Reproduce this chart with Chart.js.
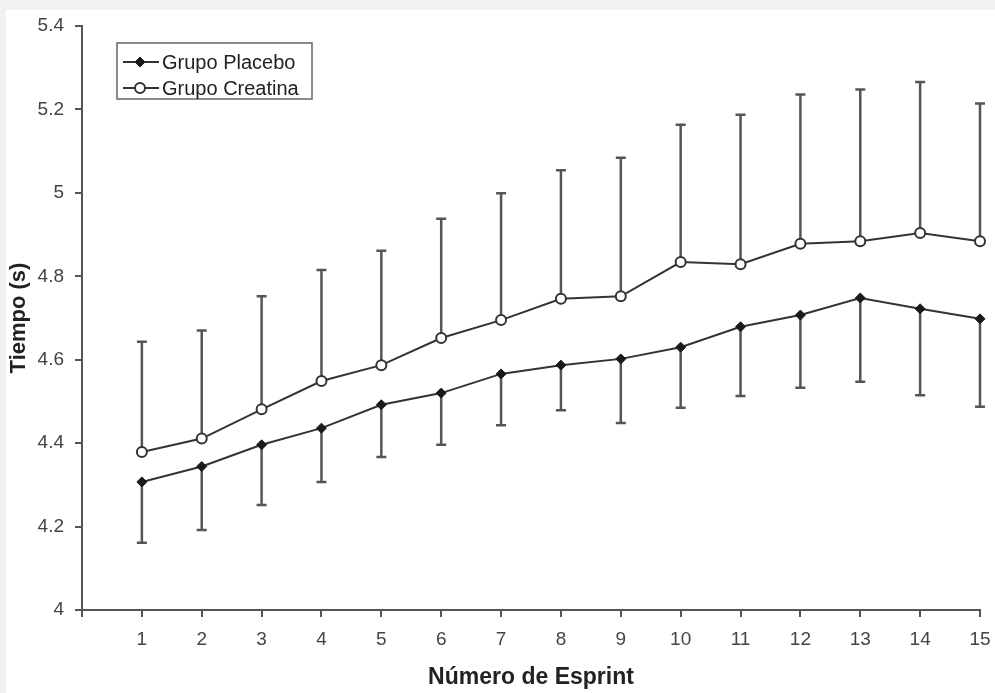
<!DOCTYPE html>
<html>
<head>
<meta charset="utf-8">
<title>Tiempo por esprint</title>
<script src="https://cdn.jsdelivr.net/npm/chart.js@4.4.0/dist/chart.umd.min.js"></script>
<style>
	html, body { margin: 0; padding: 0; background: #f2f2f2; }
	#wrap { width: 995px; height: 693px; }
</style>
</head>
<body>
<div id="wrap"><canvas id="grafico" width="995" height="693"></canvas></div>
<script>
	"use strict";
	// datos
	var sprints = [1, 2, 3, 4, 5, 6, 7, 8, 9, 10, 11, 12, 13, 14, 15];
	var placeboMean = [4.307, 4.344, 4.396, 4.436, 4.492, 4.520, 4.566, 4.587, 4.602, 4.630, 4.679, 4.707, 4.748, 4.722, 4.698];
	var placeboSD = [0.146, 0.152, 0.144, 0.129, 0.125, 0.124, 0.123, 0.108, 0.154, 0.145, 0.166, 0.174, 0.201, 0.207, 0.211];
	var creatinaMean = [4.379, 4.411, 4.481, 4.549, 4.587, 4.652, 4.695, 4.746, 4.752, 4.834, 4.829, 4.878, 4.884, 4.904, 4.884];
	var creatinaSD = [0.264, 0.259, 0.271, 0.266, 0.274, 0.286, 0.304, 0.308, 0.332, 0.329, 0.358, 0.358, 0.364, 0.362, 0.330];
	var yTicks = [4, 4.2, 4.4, 4.6, 4.8, 5, 5.2, 5.4];
	var seriesLabels = ["Grupo Placebo", "Grupo Creatina"];
	var xTitle = "Número de Esprint";
	var yTitle = "Tiempo (s)";

	var fontFam = "'Liberation Sans', Arial, sans-serif";
	var axisColor = '#555';

	function toPoints(values) {
		var pts = [];
		for (var i = 0; i < sprints.length; i++) {
			pts.push({ x: sprints[i], y: values[i] });
		}
		return pts;
	}

	// fondo gris con area blanca
	var fondoPlugin = {
		id: 'fondo',
		beforeDraw: function(chart) {
			var ctx = chart.ctx;
			ctx.save();
			ctx.fillStyle = '#f2f2f2';
			ctx.fillRect(0, 0, chart.width, chart.height);
			ctx.fillStyle = '#ffffff';
			ctx.fillRect(6, 10, chart.width - 6, chart.height - 10);
			ctx.restore();
		}
	};

	// barras de error: placebo hacia abajo, creatina hacia arriba
	var errorPlugin = {
		id: 'errores',
		beforeDatasetsDraw: function(chart) {
			var ctx = chart.ctx, xs = chart.scales.x, ys = chart.scales.y;
			var cap = 5;
			ctx.save();
			ctx.strokeStyle = '#555';
			ctx.lineWidth = 2.5;
			for (var i = 0; i < sprints.length; i++) {
				var px = xs.getPixelForValue(sprints[i]);
				var bars = [
					[placeboMean[i], placeboMean[i] - placeboSD[i]],
					[creatinaMean[i], creatinaMean[i] + creatinaSD[i]]
				];
				for (var j = 0; j < bars.length; j++) {
					var y0 = ys.getPixelForValue(bars[j][0]);
					var y1 = ys.getPixelForValue(bars[j][1]);
					ctx.beginPath();
					ctx.moveTo(px, y0);
					ctx.lineTo(px, y1);
					ctx.moveTo(px - cap, y1);
					ctx.lineTo(px + cap, y1);
					ctx.stroke();
				}
			}
			ctx.restore();
		}
	};

	// leyenda con recuadro dentro del area del grafico
	var leyendaPlugin = {
		id: 'leyendaCaja',
		afterDraw: function(chart) {
			var ctx = chart.ctx, area = chart.chartArea;
			var left = area.left + 35, top = area.top + 17;
			var w = 195, h = 56, rowH = 26;
			ctx.save();
			ctx.fillStyle = '#ffffff';
			ctx.fillRect(left, top, w, h);
			ctx.strokeStyle = '#666';
			ctx.lineWidth = 1.5;
			ctx.strokeRect(left, top, w, h);
			chart.data.datasets.forEach(function(ds, k) {
				var cy = top + 19 + k * rowH;
				ctx.strokeStyle = ds.borderColor;
				ctx.lineWidth = 2;
				ctx.beginPath();
				ctx.moveTo(left + 6, cy);
				ctx.lineTo(left + 42, cy);
				ctx.stroke();
				ctx.fillStyle = ds.pointBackgroundColor;
				ctx.strokeStyle = ds.pointBorderColor;
				ctx.lineWidth = ds.pointBorderWidth;
				Chart.helpers.drawPoint(ctx, {
					pointStyle: ds.pointStyle,
					radius: ds.pointRadius,
					borderWidth: ds.pointBorderWidth,
					rotation: 0
				}, left + 23, cy);
				ctx.fillStyle = '#222';
				ctx.font = '20px ' + fontFam;
				ctx.textBaseline = 'middle';
				ctx.textAlign = 'left';
				ctx.fillText(ds.label, left + 45, cy + 1);
			});
			ctx.restore();
		}
	};

	var ctx = document.getElementById('grafico').getContext('2d');
	var chart = new Chart(ctx, {
		type: 'line',
		data: {
			datasets: [{
				label: seriesLabels[0],
				data: toPoints(placeboMean),
				borderColor: '#333',
				borderWidth: 2,
				pointStyle: 'rectRot',
				pointRadius: 5,
				pointBackgroundColor: '#1a1a1a',
				pointBorderColor: '#1a1a1a',
				pointBorderWidth: 1,
				tension: 0,
				clip: false
			}, {
				label: seriesLabels[1],
				data: toPoints(creatinaMean),
				borderColor: '#333',
				borderWidth: 2,
				pointStyle: 'circle',
				pointRadius: 5,
				pointBackgroundColor: '#ffffff',
				pointBorderColor: '#333',
				pointBorderWidth: 2,
				tension: 0,
				clip: false
			}]
		},
		options: {
			responsive: false,
			animation: false,
			devicePixelRatio: 1,
			layout: { padding: { left: 0, top: 26, right: 0, bottom: 0 } },
			plugins: {
				legend: { display: false },
				tooltip: { enabled: false }
			},
			scales: {
				x: {
					type: 'linear',
					min: 0,
					max: 15,
					afterFit: function(scale) {
						scale.height = 83;
						scale.paddingLeft = 0;
						scale.paddingRight = 15;
					},
					ticks: {
						stepSize: 1,
						autoSkip: false,
						maxRotation: 0,
						padding: 11,
						color: '#444',
						font: { family: fontFam, size: 19 },
						callback: function(v) { return v === 0 ? '' : v; }
					},
					grid: { drawOnChartArea: false, drawTicks: true, tickLength: 7, color: axisColor, lineWidth: 2 },
					border: { color: axisColor, width: 2 },
					title: {
						display: true,
						text: xTitle,
						color: '#222',
						font: { family: fontFam, size: 23, weight: 'bold' },
						padding: { top: 0, bottom: 2 }
					}
				},
				y: {
					min: 4,
					max: 5.4,
					afterFit: function(scale) { scale.width = 82; },
					afterBuildTicks: function(scale) {
						scale.ticks = yTicks.map(function(v) { return { value: v }; });
					},
					ticks: {
						padding: 11,
						color: '#444',
						font: { family: fontFam, size: 19 },
						callback: function(v) { return String(Number(v.toFixed(1))); }
					},
					grid: { drawOnChartArea: false, drawTicks: true, tickLength: 7, color: axisColor, lineWidth: 2 },
					border: { color: axisColor, width: 2 },
					title: {
						display: true,
						text: yTitle,
						color: '#222',
						font: { family: fontFam, size: 22, weight: 'bold' },
						padding: { top: 6, bottom: 0 }
					}
				}
			}
		},
		plugins: [fondoPlugin, errorPlugin, leyendaPlugin]
	});
</script>
</body>
</html>
